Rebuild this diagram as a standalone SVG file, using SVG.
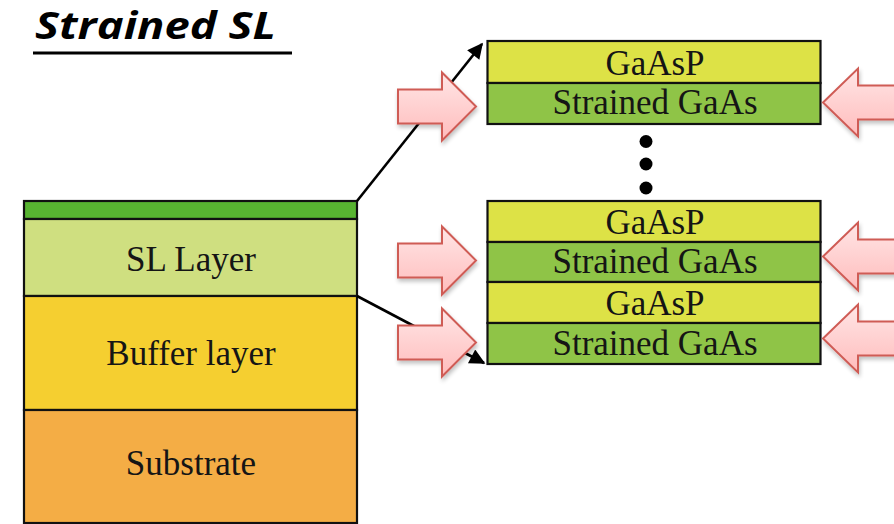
<svg xmlns="http://www.w3.org/2000/svg" width="894" height="524" viewBox="0 0 894 524">
  <style>
    .box { stroke: #111; stroke-width: 2.2; }
    .lbl { font-family: "Liberation Serif", "Times New Roman", serif; font-size: 35px; fill: #151515; text-anchor: middle; }
    .cap { fill: #58b431; }
    .sl { fill: #cfdf80; }
    .buf { fill: #f5cf30; }
    .sub { fill: #f4ad45; }
    .gaasp { fill: #dde246; }
    .sgaas { fill: #8fc447; }
    .conn { stroke: #000; stroke-width: 2.6; fill: none; }
    .push { fill: url(#pinkFill); stroke: #cf5b55; stroke-width: 2; filter: url(#softShadow); }
  </style>
  <defs>
    <linearGradient id="pinkFill" x1="0" y1="0" x2="0" y2="1">
      <stop offset="0" stop-color="#ffe6e6"/>
      <stop offset="1" stop-color="#ffbcbc"/>
    </linearGradient>
    <filter id="softShadow" x="-20%" y="-20%" width="140%" height="150%">
      <feGaussianBlur in="SourceAlpha" stdDeviation="2"/>
      <feOffset dx="1" dy="3" result="b"/>
      <feComponentTransfer><feFuncA type="linear" slope="0.25"/></feComponentTransfer>
      <feMerge><feMergeNode/><feMergeNode in="SourceGraphic"/></feMerge>
    </filter>
    <marker id="head" viewBox="0 0 10 10" refX="9" refY="5" markerWidth="7" markerHeight="6" markerUnits="strokeWidth" orient="auto">
      <path d="M0,0 L10,5 L0,10 Z" fill="#000"/>
    </marker>
    <path id="pushRight" d="M -78,-17 L -34,-17 L -34,-34 L 0,0 L -34,34 L -34,17 L -78,17 Z"/>
    <path id="pushLeft" d="M 0,0 L 35,-34 L 35,-17 L 90,-17 L 90,17 L 35,17 L 35,34 Z"/>
  </defs>

  <rect width="894" height="524" fill="#fff"/>

  <!-- heading -->
  <g id="title">
    <text x="35" y="39" font-family="Open Sans, Liberation Sans, sans-serif" font-size="37" font-weight="bold" font-style="italic" fill="#000" textLength="241" lengthAdjust="spacingAndGlyphs">Strained SL</text>
    <rect x="33" y="51.5" width="259" height="3" fill="#000"/>
  </g>

  <!-- device cross-section -->
  <g id="device">
    <rect class="box cap" x="24" y="201" width="333" height="18"/>
    <rect class="box sl" x="24" y="219" width="333" height="77"/>
    <rect class="box buf" x="24" y="296" width="333" height="114"/>
    <rect class="box sub" x="24" y="410" width="333" height="113"/>
    <text class="lbl" x="191" y="271">SL Layer</text>
    <text class="lbl" x="191" y="365">Buffer layer</text>
    <text class="lbl" x="191" y="475">Substrate</text>
  </g>

  <!-- zoom-in connectors -->
  <g id="connectors">
    <line class="conn" x1="357" y1="201" x2="482" y2="44" marker-end="url(#head)"/>
    <line class="conn" x1="357" y1="296" x2="484" y2="363" marker-end="url(#head)"/>
  </g>

  <!-- top superlattice period -->
  <g id="period-top">
    <rect class="box gaasp" x="487.5" y="41" width="333" height="42"/>
    <rect class="box sgaas" x="487.5" y="83" width="333" height="41"/>
    <text class="lbl" x="655" y="75">GaAsP</text>
    <text class="lbl" x="655" y="114">Strained GaAs</text>
  </g>

  <!-- ellipsis -->
  <g id="ellipsis" fill="#000">
    <circle cx="646" cy="141.5" r="6.5"/>
    <circle cx="646" cy="164" r="6.5"/>
    <circle cx="646" cy="188" r="6.5"/>
  </g>

  <!-- bottom superlattice periods -->
  <g id="period-bottom">
    <rect class="box gaasp" x="487.5" y="201" width="333" height="41"/>
    <rect class="box sgaas" x="487.5" y="242" width="333" height="40"/>
    <rect class="box gaasp" x="487.5" y="282" width="333" height="41"/>
    <rect class="box sgaas" x="487.5" y="323" width="333" height="41"/>
    <text class="lbl" x="655" y="234">GaAsP</text>
    <text class="lbl" x="655" y="273">Strained GaAs</text>
    <text class="lbl" x="655" y="315">GaAsP</text>
    <text class="lbl" x="655" y="355">Strained GaAs</text>
  </g>

  <!-- compressive strain arrows -->
  <g id="strain-left">
    <use href="#pushRight" class="push" transform="translate(476,106.5)"/>
    <use href="#pushRight" class="push" transform="translate(476,260.5)"/>
    <use href="#pushRight" class="push" transform="translate(476,342.5)"/>
  </g>
  <g id="strain-right">
    <use href="#pushLeft" class="push" transform="translate(823,102.5)"/>
    <use href="#pushLeft" class="push" transform="translate(823,256.5)"/>
    <use href="#pushLeft" class="push" transform="translate(823,338.5)"/>
  </g>
</svg>
